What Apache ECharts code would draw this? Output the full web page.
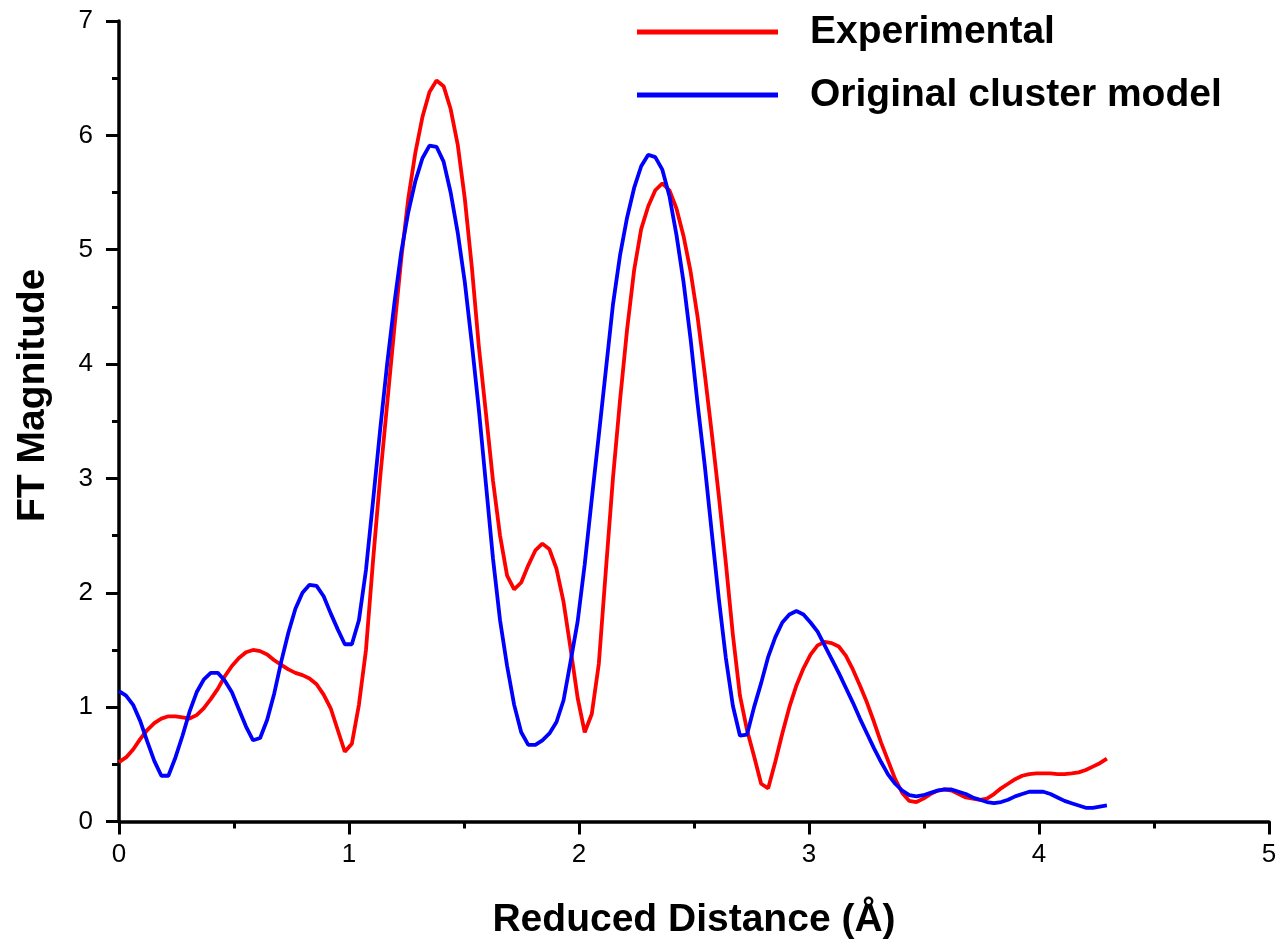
<!DOCTYPE html>
<html>
<head>
<meta charset="utf-8">
<script src="https://cdn.jsdelivr.net/npm/echarts@6/dist/echarts.min.js"></script>
<style>
  html, body { margin: 0; padding: 0; background: #fff; }
  #chart { width: 1281px; height: 945px; }
</style>
</head>
<body>
<div id="chart"></div>
<script>
// Fourier-transform magnitude vs reduced distance, sampled on a uniform R grid
const R_STEP = 0.03068; // Å
const seriesNames = ['Experimental', 'Original cluster model'];
const seriesColors = ['#ff0000', '#0000ff'];

const experimental = [
  0.52, 0.56, 0.63, 0.72, 0.80, 0.86, 0.90, 0.92, 0.92, 0.91,
  0.90, 0.93, 0.99, 1.07, 1.16, 1.27, 1.36, 1.43, 1.48, 1.50,
  1.49, 1.46, 1.41, 1.37, 1.33, 1.30, 1.28, 1.25, 1.20, 1.11,
  0.99, 0.80, 0.61, 0.68, 1.02, 1.50, 2.28, 3.00, 3.65, 4.30,
  4.92, 5.45, 5.85, 6.16, 6.38, 6.48, 6.43, 6.23, 5.92, 5.45,
  4.85, 4.15, 3.57, 2.98, 2.50, 2.15, 2.03, 2.09, 2.24, 2.37,
  2.43, 2.38, 2.21, 1.92, 1.51, 1.08, 0.78, 0.94, 1.38, 2.20,
  3.00, 3.68, 4.30, 4.82, 5.18, 5.38, 5.52, 5.58, 5.52, 5.36,
  5.12, 4.81, 4.41, 3.92, 3.40, 2.85, 2.26, 1.63, 1.10, 0.80,
  0.57, 0.33, 0.29, 0.52, 0.77, 1.00, 1.19, 1.34, 1.46, 1.54,
  1.57, 1.56, 1.53, 1.45, 1.33, 1.19, 1.04, 0.87, 0.69, 0.53,
  0.37, 0.25, 0.18, 0.17, 0.20, 0.24, 0.27, 0.28, 0.27, 0.24,
  0.21, 0.20, 0.19, 0.20, 0.24, 0.29, 0.33, 0.37, 0.40, 0.415,
  0.42, 0.42, 0.42, 0.415, 0.415, 0.42, 0.43, 0.45, 0.48, 0.51,
  0.55
];

const clusterModel = [
  1.14, 1.10, 1.02, 0.88, 0.70, 0.53, 0.40, 0.40, 0.56, 0.75,
  0.96, 1.13, 1.24, 1.30, 1.30, 1.23, 1.13, 0.98, 0.83, 0.71,
  0.73, 0.89, 1.12, 1.40, 1.65, 1.86, 2.00, 2.07, 2.06, 1.97,
  1.82, 1.68, 1.55, 1.55, 1.76, 2.20, 2.80, 3.42, 4.00, 4.52,
  4.98, 5.33, 5.60, 5.80, 5.91, 5.90, 5.77, 5.50, 5.15, 4.72,
  4.18, 3.60, 2.95, 2.30, 1.76, 1.36, 1.02, 0.78, 0.67, 0.67,
  0.71, 0.77, 0.87, 1.06, 1.40, 1.75, 2.25, 2.82, 3.38, 3.95,
  4.52, 4.95, 5.28, 5.54, 5.73, 5.83, 5.81, 5.70, 5.47, 5.13,
  4.72, 4.22, 3.65, 3.12, 2.53, 1.95, 1.43, 1.01, 0.75, 0.76,
  1.00, 1.21, 1.44, 1.61, 1.74, 1.81, 1.84, 1.81, 1.74, 1.66,
  1.54, 1.42, 1.30, 1.17, 1.04, 0.90, 0.77, 0.64, 0.52, 0.41,
  0.33, 0.27, 0.23, 0.22, 0.23, 0.25, 0.27, 0.28, 0.28, 0.26,
  0.24, 0.21, 0.19, 0.17, 0.16, 0.17, 0.19, 0.22, 0.24, 0.26,
  0.26, 0.26, 0.24, 0.21, 0.18, 0.16, 0.14, 0.12, 0.12, 0.13,
  0.14
];

const xTicks = { min: 0, max: 5, interval: 1 };
const yTicks = { min: 0, max: 7, interval: 1 };

const FONT = "'Liberation Sans', Arial, sans-serif";
const toPairs = (vals) => vals.map((v, i) => [i * R_STEP, v]);

const axisCommon = {
  axisLine: { show: true, onZero: false, lineStyle: { color: '#000', width: 3.5 } },
  axisTick: { show: true, inside: false, length: 13, lineStyle: { color: '#000', width: 3 } },
  minorTick: { show: true, splitNumber: 2, length: 7, lineStyle: { color: '#000', width: 3 } },
  splitLine: { show: false },
  minorSplitLine: { show: false },
  axisLabel: { color: '#000', fontFamily: FONT, fontSize: 26 },
  nameLocation: 'middle'
};

const chart = echarts.init(document.getElementById('chart'), null, { renderer: 'canvas' });
chart.setOption({
  backgroundColor: '#ffffff',
  animation: false,
  grid: { left: 119, right: 12, top: 21, bottom: 122, containLabel: false },
  legend: {
    orient: 'vertical',
    left: 637,
    top: 12,
    padding: 0,
    icon: 'rect',
    itemWidth: 141,
    itemHeight: 5,
    itemGap: 23,
    selectedMode: false,
    data: seriesNames,
    textStyle: {
      fontFamily: FONT, fontSize: 39, fontWeight: 'bold', color: '#000',
      lineHeight: 40, padding: [0, 0, 0, 27]
    }
  },
  xAxis: Object.assign({}, axisCommon, {
    type: 'value',
    min: xTicks.min, max: xTicks.max, interval: xTicks.interval,
    name: 'Reduced Distance (Å)',
    nameGap: 99,
    nameTextStyle: { fontFamily: FONT, fontSize: 39, fontWeight: 'bold', color: '#000', verticalAlign: 'middle' },
    axisLabel: Object.assign({}, axisCommon.axisLabel, { margin: 20 })
  }),
  yAxis: Object.assign({}, axisCommon, {
    type: 'value',
    min: yTicks.min, max: yTicks.max, interval: yTicks.interval,
    name: 'FT Magnitude',
    nameGap: 86,
    nameRotate: 90,
    nameTextStyle: { fontFamily: FONT, fontSize: 39, fontWeight: 'bold', color: '#000', verticalAlign: 'middle', padding: [0, 0, 0, 52] },
    axisLabel: Object.assign({}, axisCommon.axisLabel, { margin: 26 })
  }),
  series: [
    {
      name: seriesNames[0], type: 'line', data: toPairs(experimental),
      showSymbol: false, symbol: 'none', smooth: false,
      lineStyle: { color: seriesColors[0], width: 3.8 },
      itemStyle: { color: seriesColors[0] }, z: 2
    },
    {
      name: seriesNames[1], type: 'line', data: toPairs(clusterModel),
      showSymbol: false, symbol: 'none', smooth: false,
      lineStyle: { color: seriesColors[1], width: 3.8 },
      itemStyle: { color: seriesColors[1] }, z: 3
    }
  ]
});
</script>
</body>
</html>
